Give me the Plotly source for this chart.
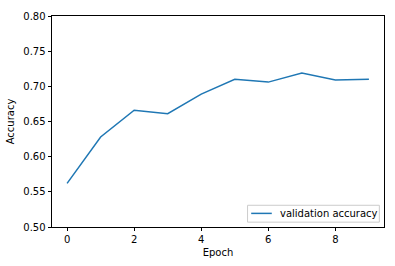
import plotly.graph_objects as go

epochs = [0, 1, 2, 3, 4, 5, 6, 7, 8, 9]
val_accuracy = [0.562, 0.628, 0.666, 0.661, 0.689, 0.710, 0.706, 0.719, 0.709, 0.710]
x_ticks = [0, 2, 4, 6, 8]
y_ticks = [0.50, 0.55, 0.60, 0.65, 0.70, 0.75, 0.80]
series_name = "validation accuracy"
line_color = "#1f77b4"

fig = go.Figure()
fig.add_trace(go.Scatter(x=epochs, y=val_accuracy, mode="lines",
                         name=series_name, showlegend=False,
                         line=dict(color=line_color, width=1.5)))

font = dict(family="DejaVu Sans", size=10, color="#000000")

# matplotlib-style legend box (lower right)
fig.add_shape(type="rect", xref="paper", yref="paper",
              x0=0.589, x1=0.986, y0=0.023, y1=0.103,
              line=dict(color="#cccccc", width=1), fillcolor="rgba(255,255,255,0.8)")
fig.add_shape(type="line", xref="paper", yref="paper",
              x0=0.600, x1=0.662, y0=0.0645, y1=0.0645,
              line=dict(color=line_color, width=1.5))
fig.add_annotation(xref="paper", yref="paper", x=0.682, y=0.0645,
                   xanchor="left", yanchor="middle", showarrow=False,
                   text=series_name, font=font)

fig.update_layout(
    width=395, height=266,
    margin=dict(l=50, r=10, t=11, b=38),
    paper_bgcolor="white", plot_bgcolor="white",
    font=font,
    showlegend=False,
    xaxis=dict(range=[-0.45, 9.45], tickvals=x_ticks, ticks="outside", ticklen=3.5,
               tickwidth=0.8, tickcolor="black", showline=True, linecolor="black",
               linewidth=0.8, mirror=True, showgrid=False, zeroline=False,
               title=dict(text="Epoch", standoff=4, font=font)),
    yaxis=dict(range=[0.5, 0.8], tickvals=y_ticks, tickformat=".2f", ticks="outside",
               ticklen=3.5, tickwidth=0.8, tickcolor="black", showline=True,
               linecolor="black", linewidth=0.8, mirror=True, showgrid=False,
               zeroline=False, title=dict(text="Accuracy", standoff=6, font=font)),
)
fig.write_html("out.html")
